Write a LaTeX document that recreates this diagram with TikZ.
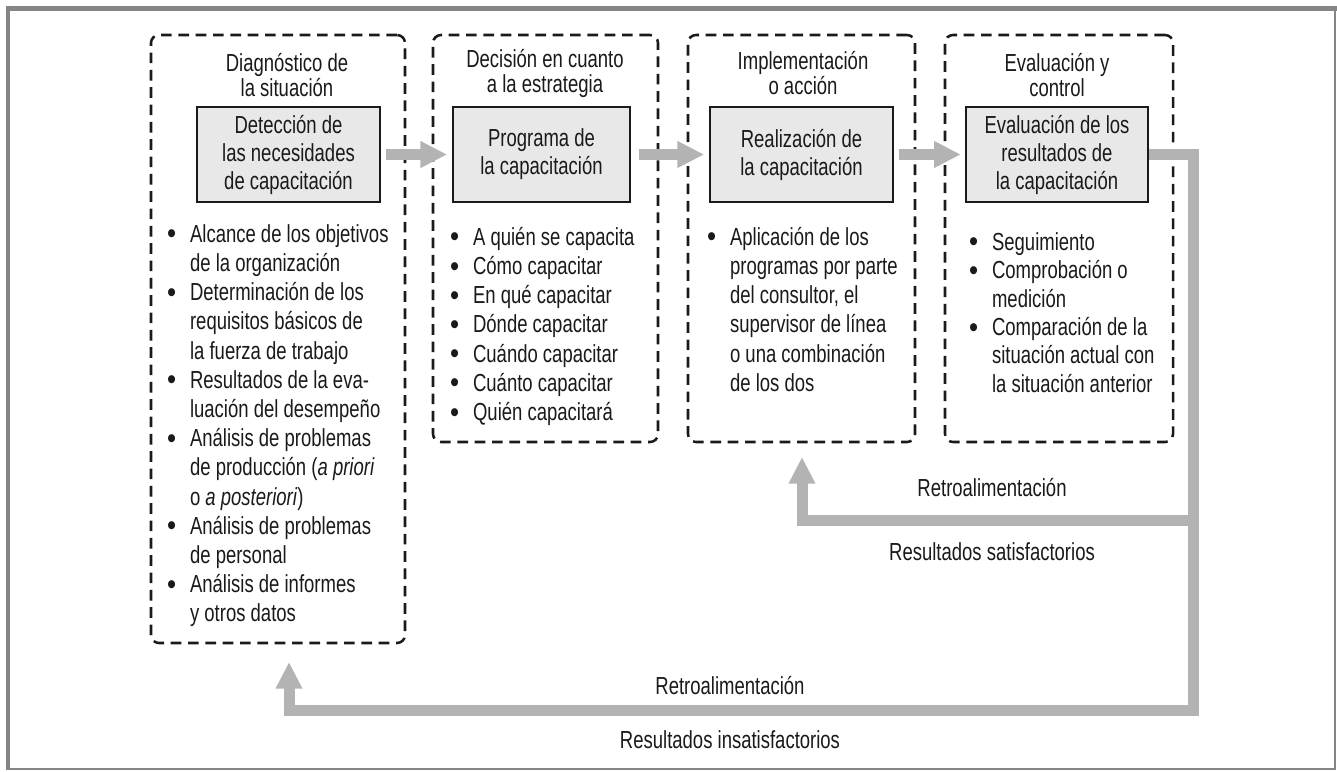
\documentclass[tikz,border=0pt]{standalone}
\usepackage{fontspec}
\setmainfont{Liberation Sans}[FakeStretch=0.75]
\usetikzlibrary{arrows.meta}

\definecolor{ink}{HTML}{1A1A1A}
\definecolor{flowgray}{HTML}{B3B3B3}
\definecolor{boxgray}{HTML}{E8E8E8}
\definecolor{framegray}{HTML}{858585}

% bullet item and continuation indent for the lists
\newcommand{\itm}{\makebox[17.25pt][l]{\raisebox{-1.3pt}{\scalebox{1.4}[1.2]{\textbullet}}}}
\newcommand{\cnt}{\hspace*{17.25pt}}
\newcommand{\firstline}{\rule{0pt}{17pt}}

\tikzset{
  stage/.style={draw=ink, line width=1.9pt, dash pattern=on 8pt off 5pt,
    rounded corners=6pt, inner sep=0pt},
  task/.style={draw=ink, fill=boxgray, line width=1.8pt, inner sep=0pt,
    minimum height=71.25pt, align=center,
    font=\fontsize{18.5}{21}\selectfont},
  heading/.style={align=center, inner sep=0pt,
    font=\fontsize{18.5}{18.75}\selectfont},
  itemlist/.style={align=left, inner sep=0pt, anchor=north west,
    font=\fontsize{18.5}{21.9}\selectfont},
  label/.style={inner sep=0pt, anchor=base},
  flow/.style={draw=flowgray, line width=8.25pt,
    -{Triangle[length=20pt, width=18.75pt]}},
}

\begin{document}
\begin{tikzpicture}[x=0.75pt, y=-0.75pt, text=ink,
  font=\fontsize{18.5}{21.9}\selectfont]
\useasboundingbox (0,0) rectangle (1337,771);

% frame
\draw[framegray, line width=1.5pt] (7,7) rectangle (1335,769);
\fill[framegray] (6,6) rectangle (1337,11);
\fill[framegray] (6,6) rectangle (10,769);

% stage outlines
\node[stage, minimum width=190.5pt, minimum height=456pt] (d1) at (278,339) {};
\node[stage, minimum width=168.75pt, minimum height=305.25pt] (d2) at (545.5,238.5) {};
\node[stage, minimum width=170.25pt, minimum height=305.25pt] (d3) at (801.5,238.5) {};
\node[stage, minimum width=171pt, minimum height=305.25pt] (d4) at (1059,238.5) {};

% stage headings
\node[heading] (h1) at (287,75) {Diagnóstico de\\la situación};
\node[heading] (h2) at (545,73) {Decisión en cuanto\\a la estrategia};
\node[heading] (h3) at (803,73) {Implementación\\o acción};
\node[heading] (h4) at (1057,75) {Evaluación y\\control};

% central tasks
\node[task, minimum width=137.25pt] (g1) at (288.5,154.5)
  {Detección de\\las necesidades\\de capacitación};
\node[task, minimum width=132.75pt] (g2) at (541.5,154.5)
  {Programa de\\la capacitación};
\node[task, minimum width=137.25pt] (g3) at (801.5,154.5)
  {Realización de\\la capacitación};
\node[task, minimum width=136.5pt] (g4) at (1057,154.5)
  {Evaluación de los\\resultados de\\la capacitación};

% lists
\node[itemlist] (l1) at (166.8,219.3) {%
\firstline\itm Alcance de los objetivos\\
\cnt de la organización\\
\itm Determinación de los\\
\cnt requisitos básicos de\\
\cnt la fuerza de trabajo\\
\itm Resultados de la eva-\\
\cnt luación del desempeño\\
\itm Análisis de problemas\\
\cnt de producción (\textit{a priori}\\
\cnt o \textit{a posteriori})\\
\itm Análisis de problemas\\
\cnt de personal\\
\itm Análisis de informes\\
\cnt y otros datos};

\node[itemlist] (l2) at (449.8,222.3) {%
\firstline\itm A quién se capacita\\
\itm Cómo capacitar\\
\itm En qué capacitar\\
\itm Dónde capacitar\\
\itm Cuándo capacitar\\
\itm Cuánto capacitar\\
\itm Quién capacitará};

\node[itemlist] (l3) at (706.8,222.3) {%
\firstline\itm Aplicación de los\\
\cnt programas por parte\\
\cnt del consultor, el\\
\cnt supervisor de línea\\
\cnt o una combinación\\
\cnt de los dos};

\node[itemlist, font=\fontsize{18.5}{21.3}\selectfont] (l4) at (968.8,227.3) {%
\firstline\itm Seguimiento\\
\itm Comprobación o\\
\cnt medición\\
\itm Comparación de la\\
\cnt situación actual con\\
\cnt la situación anterior};

% forward flow between tasks
\draw[flow, shorten <=3.75pt, shorten >=3.5pt] (g1.east) -- (g2.west);
\draw[flow, shorten <=6pt, shorten >=3.5pt] (g2.east) -- (g3.west);
\draw[flow, shorten <=3.75pt, shorten >=3pt] (g3.east) -- (g4.west);

% feedback loops
\coordinate (topTurn) at (1193.5,154.5);
\coordinate (lowTurn) at (1193.5,710);
\coordinate (lowTip) at (289,662);
\coordinate (upBranch) at (1193.5,520);
\coordinate (upTip) at (802,457);

\draw[flow] (g4.east) -- (topTurn) -- (lowTurn) -| (lowTip);
\draw[flow] (upBranch) -| (upTip);

% loop labels
\node[label] (r1) at (992,496) {Retroalimentación};
\node[label] (s1) at (992,560) {Resultados satisfactorios};
\node[label] (r2) at (730,694) {Retroalimentación};
\node[label] (s2) at (730,748) {Resultados insatisfactorios};
\end{tikzpicture}
\end{document}
